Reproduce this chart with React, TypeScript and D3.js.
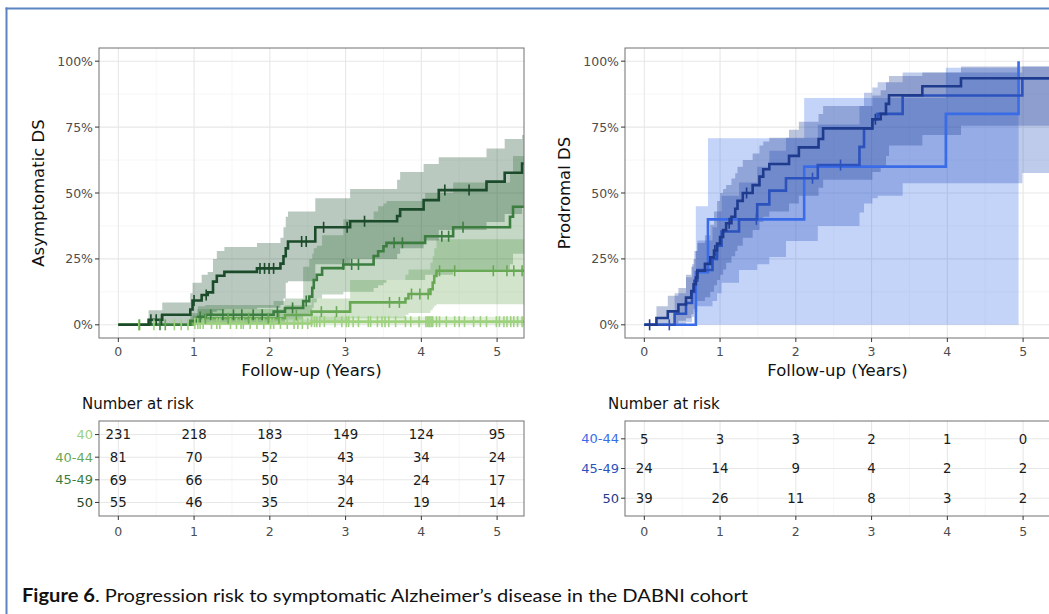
import React from 'react';
import * as d3 from 'd3';

type Pt = [number, number];
type Band = [number, number, number];

const W = 1049;
const H = 614;

// ---- shared axes ----
const yearTicks = [0, 1, 2, 3, 4, 5];
const yearMinor = [0.5, 1.5, 2.5, 3.5, 4.5];
const pctTicks = [0, 0.25, 0.5, 0.75, 1];
const pctMinor = [0.125, 0.375, 0.625, 0.875];
const pctLabels = ['0%', '25%', '50%', '75%', '100%'];

// ---- Asymptomatic DS (green) ----
const asymGroups = ['40', '40-44', '45-49', '50'];
const asymColors = ['#9dd17f', '#69a956', '#3c7d40', '#1b4b2a'];

const asymEst40: Pt[] = [[1.0, 0.005], [2.55, 0.012]];
const asymBand40: Band[] = [[1.0, 0, 0.02], [2.55, 0.001, 0.031]];
const asymCens40 = [0.27, 0.47, 0.74, 0.83, 0.92, 1.01, 1.05, 1.08, 1.12, 1.23, 1.3, 1.34, 1.48, 1.56, 1.62, 1.65, 1.74, 1.83, 1.92, 2.01, 2.05, 2.14, 2.23, 2.32, 2.37, 2.43, 2.5, 2.55, 2.59, 2.62, 2.66, 2.72, 2.86, 2.95, 3.01, 3.04, 3.1, 3.17, 3.3, 3.33, 3.42, 3.48, 3.52, 3.57, 3.66, 3.79, 3.86, 3.97, 4.06, 4.08, 4.1, 4.11, 4.13, 4.15, 4.2, 4.24, 4.33, 4.44, 4.5, 4.57, 4.69, 4.78, 4.86, 4.99, 5.03, 5.09, 5.13, 5.18, 5.22, 5.27, 5.33];

const asymEst4044: Pt[] = [[0.98, 0.012], [1.04, 0.025], [2.2, 0.037], [2.55, 0.05], [3.06, 0.085], [3.79, 0.1], [3.83, 0.117], [4.12, 0.135], [4.15, 0.16], [4.17, 0.185], [4.2, 0.205]];
const asymBand4044: Band[] = [[0.98, 0, 0.035], [1.04, 0.002, 0.06], [2.2, 0.006, 0.075], [2.55, 0.012, 0.1], [3.06, 0.025, 0.17], [3.79, 0.038, 0.19], [3.83, 0.045, 0.21], [4.12, 0.055, 0.235], [4.15, 0.065, 0.26], [4.17, 0.072, 0.29], [4.2, 0.078, 0.325]];
const asymCens4044 = [0.28, 0.62, 1.15, 1.45, 1.72, 1.98, 2.12, 2.35, 2.68, 2.88, 3.58, 3.71, 3.87, 3.98, 4.09, 4.24, 4.44, 4.95, 5.13, 5.22, 5.33];

const asymEst4549: Pt[] = [[0.95, 0.015], [1.05, 0.03], [1.15, 0.038], [2.05, 0.05], [2.2, 0.064], [2.44, 0.09], [2.52, 0.107], [2.56, 0.14], [2.58, 0.17], [2.62, 0.19], [2.69, 0.215], [2.97, 0.229], [3.37, 0.261], [3.43, 0.279], [3.5, 0.298], [3.54, 0.311], [4.05, 0.336], [4.42, 0.37], [5.17, 0.41], [5.21, 0.448]];
const asymBand4549: Band[] = [[0.95, 0, 0.045], [1.05, 0.003, 0.07], [1.15, 0.008, 0.075], [2.05, 0.012, 0.09], [2.2, 0.02, 0.1], [2.44, 0.035, 0.22], [2.52, 0.045, 0.25], [2.56, 0.065, 0.27], [2.58, 0.085, 0.29], [2.62, 0.1, 0.3], [2.69, 0.115, 0.34], [2.97, 0.125, 0.4], [3.37, 0.14, 0.43], [3.43, 0.15, 0.45], [3.5, 0.16, 0.46], [3.54, 0.17, 0.47], [4.05, 0.19, 0.5], [4.42, 0.21, 0.54], [5.17, 0.23, 0.58], [5.21, 0.27, 0.64]];
const asymCens4549 = [0.55, 1.08, 1.22, 1.38, 1.52, 1.63, 1.78, 1.9, 2.1, 2.3, 2.48, 2.97, 3.08, 3.17, 3.64, 3.75, 4.27, 4.36, 4.55];

const asymEst50: Pt[] = [[0.4, 0.019], [0.58, 0.038], [0.95, 0.058], [0.98, 0.092], [1.1, 0.113], [1.18, 0.123], [1.25, 0.164], [1.3, 0.186], [1.4, 0.201], [1.83, 0.214], [2.14, 0.232], [2.18, 0.26], [2.21, 0.29], [2.24, 0.316], [2.6, 0.37], [3.06, 0.393], [3.68, 0.413], [3.72, 0.438], [4.03, 0.473], [4.23, 0.511], [4.86, 0.543], [5.1, 0.577], [5.33, 0.612]];
const asymBand50: Band[] = [[0.4, 0, 0.055], [0.58, 0, 0.085], [0.95, 0.005, 0.12], [0.98, 0.02, 0.16], [1.1, 0.03, 0.19], [1.18, 0.035, 0.2], [1.25, 0.05, 0.25], [1.3, 0.055, 0.28], [1.4, 0.06, 0.295], [1.83, 0.065, 0.31], [2.14, 0.075, 0.33], [2.18, 0.1, 0.37], [2.21, 0.16, 0.41], [2.24, 0.165, 0.43], [2.6, 0.23, 0.48], [3.06, 0.25, 0.515], [3.68, 0.27, 0.55], [3.72, 0.29, 0.58], [4.03, 0.32, 0.61], [4.23, 0.36, 0.636], [4.86, 0.39, 0.669], [5.1, 0.42, 0.705], [5.33, 0.45, 0.72]];
const asymCens50 = [0.43, 0.5, 0.57, 1.0, 1.16, 1.87, 1.93, 1.99, 2.05, 2.42, 2.48, 2.71, 3.02, 3.25, 4.31, 4.63];

const asymRisk40 = [231, 218, 183, 149, 124, 95];
const asymRisk4044 = [81, 70, 52, 43, 34, 24];
const asymRisk4549 = [69, 66, 50, 34, 24, 17];
const asymRisk50 = [55, 46, 35, 24, 19, 14];

// ---- Prodromal DS (blue) ----
const prodGroups = ['40-44', '45-49', '50'];
const prodColors = ['#3b6ce8', '#2c52bd', '#1e3b8e'];

const prodEst4044: Pt[] = [[0.68, 0.2], [0.84, 0.4], [2.11, 0.6], [3.98, 0.8], [4.94, 1.0]];
const prodBand4044: Band[] = [[0.68, 0, 0.45], [0.84, 0, 0.708], [2.11, 0, 0.86], [3.98, 0, 0.975], [4.94, 0, 0.975]];
const prodCens4044: number[] = [];

const prodEst4549: Pt[] = [[0.4, 0.042], [0.55, 0.083], [0.63, 0.125], [0.66, 0.167], [0.7, 0.208], [0.9, 0.25], [0.96, 0.3], [1.02, 0.354], [1.25, 0.4], [1.49, 0.457], [1.65, 0.509], [1.87, 0.556], [2.29, 0.606], [2.84, 0.675], [2.9, 0.745], [3.01, 0.78], [3.08, 0.8], [3.41, 0.87], [4.99, 0.935]];
const prodBand4549: Band[] = [[0.4, 0, 0.12], [0.55, 0.01, 0.18], [0.63, 0.03, 0.23], [0.66, 0.05, 0.28], [0.7, 0.07, 0.32], [0.9, 0.09, 0.37], [0.96, 0.12, 0.43], [1.02, 0.16, 0.49], [1.25, 0.208, 0.54], [1.49, 0.23, 0.6], [1.65, 0.257, 0.66], [1.87, 0.318, 0.71], [2.29, 0.375, 0.76], [2.84, 0.426, 0.83], [2.9, 0.46, 0.88], [3.01, 0.48, 0.9], [3.08, 0.49, 0.92], [3.41, 0.537, 0.957], [4.99, 0.576, 0.98]];
const prodCens4549 = [0.33, 1.48, 2.22, 2.59];

const prodEst50: Pt[] = [[0.16, 0.026], [0.31, 0.051], [0.45, 0.077], [0.55, 0.103], [0.62, 0.128], [0.65, 0.154], [0.68, 0.179], [0.7, 0.205], [0.8, 0.231], [0.87, 0.256], [0.92, 0.282], [0.96, 0.308], [1.0, 0.333], [1.04, 0.359], [1.08, 0.385], [1.15, 0.41], [1.2, 0.44], [1.23, 0.47], [1.3, 0.5], [1.43, 0.53], [1.52, 0.562], [1.57, 0.59], [1.65, 0.61], [1.91, 0.641], [2.04, 0.673], [2.3, 0.705], [2.36, 0.745], [3.01, 0.78], [3.12, 0.8], [3.19, 0.838], [3.23, 0.871], [3.67, 0.905], [4.18, 0.935]];
const prodBand50: Band[] = [[0.16, 0, 0.07], [0.31, 0.005, 0.11], [0.45, 0.015, 0.14], [0.55, 0.025, 0.19], [0.62, 0.04, 0.22], [0.65, 0.06, 0.25], [0.68, 0.075, 0.28], [0.7, 0.09, 0.31], [0.8, 0.105, 0.34], [0.87, 0.125, 0.38], [0.92, 0.15, 0.43], [0.96, 0.17, 0.47], [1.0, 0.19, 0.5], [1.04, 0.21, 0.515], [1.08, 0.235, 0.53], [1.15, 0.26, 0.555], [1.2, 0.28, 0.575], [1.23, 0.3, 0.6], [1.3, 0.33, 0.625], [1.43, 0.36, 0.65], [1.52, 0.39, 0.68], [1.57, 0.41, 0.695], [1.65, 0.43, 0.71], [1.91, 0.46, 0.74], [2.04, 0.49, 0.77], [2.3, 0.52, 0.8], [2.36, 0.55, 0.83], [3.01, 0.58, 0.87], [3.12, 0.6, 0.89], [3.19, 0.64, 0.92], [3.23, 0.68, 0.944], [3.67, 0.72, 0.957], [4.18, 0.755, 0.98]];
const prodCens50 = [0.07, 0.93, 1.12, 1.35, 3.05];

const prodRisk4044 = [5, 3, 3, 2, 1, 0];
const prodRisk4549 = [24, 14, 9, 4, 2, 2];
const prodRisk50 = [39, 26, 11, 8, 3, 2];

// ---- layout ----
const PANEL_W = 425;
const PLOT_TOP = 48;
const PLOT_BOTTOM = 338;
const TABLE_TOP = 421;
const TABLE_BOTTOM = 516;
const X_DOMAIN: [number, number] = [-0.255, 5.355];
const CURVE_END = 5.45;

const FONT = "'DejaVu Sans', Verdana, sans-serif";
const TICK_TEXT = '#4d4d4d';
const GRID_MAJOR = '#e7e7e7';
const GRID_MINOR = '#f3f3f3';
const BORDER = '#707070';

interface Series {
  name: string;
  color: string;
  est: Pt[];
  band: Band[];
  censor: number[];
  openEnd: boolean;
}

function stepValue(points: Pt[], t: number): number {
  let v = 0;
  for (const [pt, pv] of points) if (pt <= t) v = pv;
  return v;
}

function Panel(props: {
  left: number;
  id: string;
  yTitle: string;
  series: Series[];
  risk: number[][];
}) {
  const { left, id, yTitle, series, risk } = props;
  const x = d3.scaleLinear().domain(X_DOMAIN).range([left, left + PANEL_W]);
  const y = d3.scaleLinear().domain([-0.05, 1.05]).range([PLOT_BOTTOM, PLOT_TOP]);
  const rowY = d3
    .scalePoint<string>()
    .domain(series.map((s) => s.name))
    .range([TABLE_TOP, TABLE_BOTTOM])
    .padding(0.6);

  const line = d3
    .line<Pt>()
    .x((d) => x(d[0]))
    .y((d) => y(d[1]))
    .curve(d3.curveStepAfter);
  const area = d3
    .area<Band>()
    .x((d) => x(d[0]))
    .y0((d) => y(d[1]))
    .y1((d) => y(d[2]))
    .curve(d3.curveStepAfter);

  const lineData = (s: Series): Pt[] => {
    const pts: Pt[] = [[0, 0], ...s.est];
    if (s.openEnd) pts.push([CURVE_END, s.est[s.est.length - 1][1]]);
    return pts;
  };
  const bandData = (s: Series): Band[] => {
    const pts: Band[] = [[0, 0, 0], ...s.band];
    if (s.openEnd) {
      const last = s.band[s.band.length - 1];
      pts.push([CURVE_END, last[1], last[2]]);
    }
    return pts;
  };

  const plotCx = left + PANEL_W / 2;
  const clip = `clip-${id}`;

  return (
    <g>
      <defs>
        <clipPath id={clip}>
          <rect x={left} y={PLOT_TOP} width={PANEL_W} height={PLOT_BOTTOM - PLOT_TOP} />
        </clipPath>
      </defs>

      {/* plot background and grid */}
      <rect x={left} y={PLOT_TOP} width={PANEL_W} height={PLOT_BOTTOM - PLOT_TOP} fill="#fff" />
      {yearMinor.map((t) => (
        <line key={`xm${t}`} x1={x(t)} x2={x(t)} y1={PLOT_TOP} y2={PLOT_BOTTOM} stroke={GRID_MINOR} strokeWidth={0.7} />
      ))}
      {pctMinor.map((p) => (
        <line key={`ym${p}`} x1={left} x2={left + PANEL_W} y1={y(p)} y2={y(p)} stroke={GRID_MINOR} strokeWidth={0.7} />
      ))}
      {yearTicks.map((t) => (
        <line key={`xg${t}`} x1={x(t)} x2={x(t)} y1={PLOT_TOP} y2={PLOT_BOTTOM} stroke={GRID_MAJOR} strokeWidth={1.1} />
      ))}
      {pctTicks.map((p) => (
        <line key={`yg${p}`} x1={left} x2={left + PANEL_W} y1={y(p)} y2={y(p)} stroke={GRID_MAJOR} strokeWidth={1.1} />
      ))}

      {/* confidence bands, step curves, censor marks */}
      <g clipPath={`url(#${clip})`}>
        {series.map((s) => (
          <path key={`b${s.name}`} d={area(bandData(s)) || ''} fill={s.color} fillOpacity={0.3} stroke="none" />
        ))}
        {series.map((s) => (
          <path key={`l${s.name}`} d={line(lineData(s)) || ''} fill="none" stroke={s.color} strokeWidth={2.6} />
        ))}
        {series.map((s) =>
          s.censor.map((t, i) => {
            const cy = y(stepValue(s.est, t));
            return (
              <line key={`c${s.name}${i}`} x1={x(t)} x2={x(t)} y1={cy - 5.5} y2={cy + 5.5} stroke={s.color} strokeWidth={1.6} />
            );
          })
        )}
      </g>
      <rect x={left} y={PLOT_TOP} width={PANEL_W} height={PLOT_BOTTOM - PLOT_TOP} fill="none" stroke={BORDER} strokeWidth={1} />

      {/* y axis */}
      {pctTicks.map((p, i) => (
        <g key={`yt${p}`}>
          <line x1={left - 4} x2={left} y1={y(p)} y2={y(p)} stroke="#333" strokeWidth={1} />
          <text x={left - 6} y={y(p)} dy="0.36em" textAnchor="end" fontSize={12.5} fill={TICK_TEXT}>
            {pctLabels[i]}
          </text>
        </g>
      ))}
      <text
        transform={`translate(${left - 61},${(PLOT_TOP + PLOT_BOTTOM) / 2}) rotate(-90)`}
        textAnchor="middle"
        dy="0.36em"
        fontSize={16.5}
        fill="#111"
      >
        {yTitle}
      </text>

      {/* x axis */}
      {yearTicks.map((t) => (
        <g key={`xt${t}`}>
          <line x1={x(t)} x2={x(t)} y1={PLOT_BOTTOM} y2={PLOT_BOTTOM + 4} stroke="#333" strokeWidth={1} />
          <text x={x(t)} y={PLOT_BOTTOM + 13} dy="0.36em" textAnchor="middle" fontSize={12.5} fill={TICK_TEXT}>
            {t}
          </text>
        </g>
      ))}
      <text x={plotCx} y={370} dy="0.36em" textAnchor="middle" fontSize={16.5} fill="#111">
        Follow-up (Years)
      </text>

      {/* number at risk table */}
      <text x={left - 17} y={404} dy="0.36em" fontSize={15} fill="#111">
        Number at risk
      </text>
      <rect x={left} y={TABLE_TOP} width={PANEL_W} height={TABLE_BOTTOM - TABLE_TOP} fill="#fff" />
      {yearMinor.map((t) => (
        <line key={`tm${t}`} x1={x(t)} x2={x(t)} y1={TABLE_TOP} y2={TABLE_BOTTOM} stroke={GRID_MINOR} strokeWidth={0.7} />
      ))}
      {yearTicks.map((t) => (
        <line key={`tg${t}`} x1={x(t)} x2={x(t)} y1={TABLE_TOP} y2={TABLE_BOTTOM} stroke={GRID_MAJOR} strokeWidth={1.1} />
      ))}
      {series.map((s) => (
        <line key={`tr${s.name}`} x1={left} x2={left + PANEL_W} y1={rowY(s.name)!} y2={rowY(s.name)!} stroke={GRID_MAJOR} strokeWidth={1.1} />
      ))}
      {series.map((s, si) =>
        risk[si].map((n, ti) => (
          <text key={`n${s.name}${ti}`} x={x(yearTicks[ti])} y={rowY(s.name)!} dy="0.36em" textAnchor="middle" fontSize={13.3} fill="#1a1a1a">
            {n}
          </text>
        ))
      )}
      <rect x={left} y={TABLE_TOP} width={PANEL_W} height={TABLE_BOTTOM - TABLE_TOP} fill="none" stroke={BORDER} strokeWidth={1} />
      {series.map((s) => (
        <g key={`rl${s.name}`}>
          <line x1={left - 4} x2={left} y1={rowY(s.name)!} y2={rowY(s.name)!} stroke="#333" strokeWidth={1} />
          <text x={left - 6} y={rowY(s.name)!} dy="0.36em" textAnchor="end" fontSize={13} fill={s.color}>
            {s.name}
          </text>
        </g>
      ))}
      {yearTicks.map((t) => (
        <g key={`tx${t}`}>
          <line x1={x(t)} x2={x(t)} y1={TABLE_BOTTOM} y2={TABLE_BOTTOM + 4} stroke="#333" strokeWidth={1} />
          <text x={x(t)} y={TABLE_BOTTOM + 15} dy="0.36em" textAnchor="middle" fontSize={12.5} fill={TICK_TEXT}>
            {t}
          </text>
        </g>
      ))}
    </g>
  );
}

const asymSeries: Series[] = [
  { name: asymGroups[0], color: asymColors[0], est: asymEst40, band: asymBand40, censor: asymCens40, openEnd: true },
  { name: asymGroups[1], color: asymColors[1], est: asymEst4044, band: asymBand4044, censor: asymCens4044, openEnd: true },
  { name: asymGroups[2], color: asymColors[2], est: asymEst4549, band: asymBand4549, censor: asymCens4549, openEnd: true },
  { name: asymGroups[3], color: asymColors[3], est: asymEst50, band: asymBand50, censor: asymCens50, openEnd: true },
];

const prodSeries: Series[] = [
  { name: prodGroups[0], color: prodColors[0], est: prodEst4044, band: prodBand4044, censor: prodCens4044, openEnd: false },
  { name: prodGroups[1], color: prodColors[1], est: prodEst4549, band: prodBand4549, censor: prodCens4549, openEnd: true },
  { name: prodGroups[2], color: prodColors[2], est: prodEst50, band: prodBand50, censor: prodCens50, openEnd: true },
];

export default function App() {
  return (
    <svg
      width={W}
      height={H}
      viewBox={`0 0 ${W} ${H}`}
      style={{ position: 'absolute', left: 0, top: 0, display: 'block', background: '#fff' }}
      fontFamily={FONT}
    >
      <rect width={W} height={H} fill="#fff" />
      <Panel left={99} id="asym" yTitle="Asymptomatic DS" series={asymSeries} risk={[asymRisk40, asymRisk4044, asymRisk4549, asymRisk50]} />
      <Panel left={625} id="prod" yTitle="Prodromal DS" series={prodSeries} risk={[prodRisk4044, prodRisk4549, prodRisk50]} />

      {/* figure frame */}
      <line x1={5.5} x2={W} y1={8.5} y2={8.5} stroke="#5b84c0" strokeWidth={2} />
      <line x1={6.5} x2={6.5} y1={7.5} y2={H} stroke="#5b84c0" strokeWidth={2} />

      <text x={22} y={602} fontSize={18} fill="#111" fontFamily="Lato, 'Open Sans', sans-serif" textLength={726} lengthAdjust="spacingAndGlyphs">
        <tspan fontWeight="bold">Figure 6</tspan>. Progression risk to symptomatic Alzheimer’s disease in the DABNI cohort
      </text>
    </svg>
  );
}
